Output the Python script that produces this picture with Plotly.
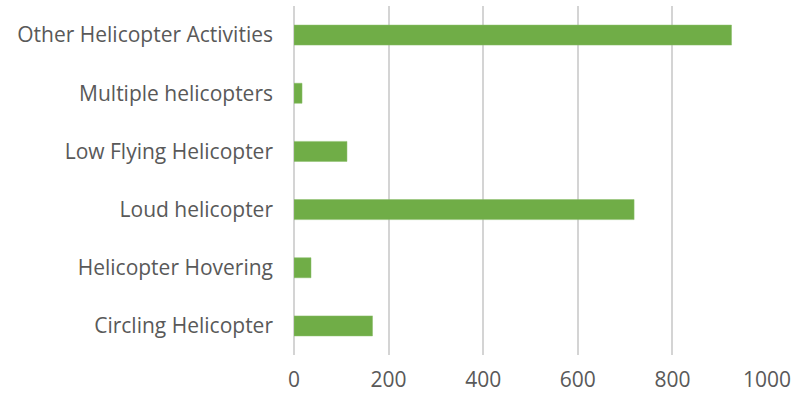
import plotly.graph_objects as go

categories = ["Circling Helicopter", "Helicopter Hovering", "Loud helicopter",
              "Low Flying Helicopter", "Multiple helicopters", "Other Helicopter Activities"]
values = [166, 36, 719, 112, 17, 925]
x_ticks = [0, 200, 400, 600, 800, 1000]

fig = go.Figure(go.Bar(
    x=values, y=categories, orientation="h",
    marker=dict(color="#70AD47", line=dict(color="#8cbf6c", width=0.5)),
    width=0.345,
))

fig.update_layout(
    width=802, height=400,
    margin=dict(l=294, r=35, t=6, b=45, autoexpand=False),
    paper_bgcolor="white", plot_bgcolor="white",
    font=dict(family="Open Sans", size=21, color="#595959"),
    showlegend=False,
)
fig.update_xaxes(range=[0, 1000], tickvals=x_ticks, showgrid=True, automargin=False,
                 gridcolor="#d4d4d4", gridwidth=2,
                 zeroline=True, zerolinecolor="#d4d4d4", zerolinewidth=2, showline=False,
                 ticklabelstandoff=10, tickfont=dict(size=21))
fig.update_yaxes(categoryorder="array", categoryarray=categories, showgrid=False,
                 automargin=False, zeroline=False, showline=False, ticklabelstandoff=20,
                 tickfont=dict(size=21))

fig.write_html("out.html", config={"displayModeBar": False},
               post_script="document.body.style.margin='0';document.body.style.overflow='hidden';")
